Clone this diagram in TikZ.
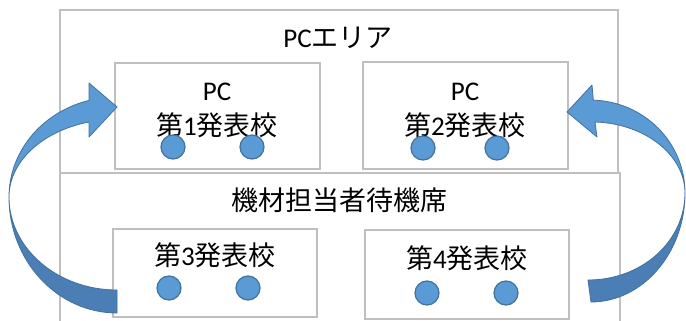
\documentclass[tikz,border=0pt]{standalone}
\usepackage{fontspec}
\setmainfont{Carlito}
\newfontfamily\jp{Noto Sans CJK JP}
\newcommand\jpt[1]{{\jp #1}}
\definecolor{linegray}{HTML}{BFBFBF}
\definecolor{dotfill}{HTML}{5B9BD5}
\definecolor{dotline}{HTML}{41719C}
\definecolor{arrowlight}{HTML}{5B9BD5}
\definecolor{arrowdark}{HTML}{4A7EB5}
\tikzset{
  region/.style={draw=linegray, line width=1.5pt, fill=white, inner sep=0pt},
  schoolbox/.style={draw=linegray, line width=1.5pt, fill=white, inner sep=0pt},
  label/.style={font=\fontsize{27}{32}\selectfont, inner sep=0pt, text=black},
  dot/.style={circle, fill=dotfill, draw=dotline, line width=1.2pt, minimum size=24pt, inner sep=0pt},
  arrowpart/.style={draw=dotline, line width=0.8pt, line join=round},
}
\begin{document}
\begin{tikzpicture}[x=1pt,y=-1pt]
\clip (0,0) rectangle (686,321);
\fill[white] (0,0) rectangle (686,321);
% regions
\node[region, minimum width=558pt, minimum height=163pt] (pcarea) at (339,91.5) {};
\node[region, minimum width=560pt, minimum height=164pt] (waitarea) at (340,255) {};
% school boxes
\node[schoolbox, minimum width=205pt, minimum height=106pt] (b1) at (217.5,116) {};
\node[schoolbox, minimum width=205pt, minimum height=107pt] (b2) at (465.5,115.5) {};
\node[schoolbox, minimum width=204pt, minimum height=88pt] (b3) at (215,273) {};
\node[schoolbox, minimum width=204pt, minimum height=89pt] (b4) at (467,274.5) {};
% texts
\node[label] (t0) at (338,38) {PC\jpt{エリア}};
\node[label] (p1) at (217,92) {PC};
\node[label] (s1) at (217,125) {\jpt{第}1\jpt{発表校}};
\node[label] (p2) at (465,92) {PC};
\node[label] (s2) at (465,125) {\jpt{第}2\jpt{発表校}};
\node[label] (tw) at (339,200) {\jpt{機材担当者待機席}};
\node[label] (s3) at (215,255) {\jpt{第}3\jpt{発表校}};
\node[label] (s4) at (467,258) {\jpt{第}4\jpt{発表校}};
% dots
\node[dot] (c1a) at (173,147) {};
\node[dot] (c1b) at (252,147) {};
\node[dot] (c2a) at (423,148) {};
\node[dot] (c2b) at (497,148) {};
\node[dot] (c3a) at (169,288) {};
\node[dot] (c3b) at (248,288) {};
\node[dot] (c4a) at (427,293) {};
\node[dot] (c4b) at (506,293) {};
% left curved arrow (upper light part)
\filldraw[arrowpart, fill=arrowlight]
  (9,197) .. controls (9,151.7) and (41.8,112.1) .. (89,100.4)
  -- (89,83) -- (117,107) -- (89,137) -- (89,122)
  .. controls (41.8,131.1) and (9,161.9) .. (9,197) -- cycle;
% left curved arrow (lower dark part)
\filldraw[arrowpart, fill=arrowdark]
  (9,197) .. controls (9,261) and (57.4,313) .. (117,313)
  -- (117,290)
  .. controls (57.4,290) and (9,248.3) .. (9,197) -- cycle;
% right curved arrow (upper light part)
\filldraw[arrowpart, fill=arrowlight]
  (685,193) .. controls (685,142.9) and (644.5,101.8) .. (593.3,100.1)
  -- (592,85) -- (567,112) -- (597,137) -- (595,122)
  .. controls (644.5,123.4) and (685,154.8) .. (685,193) -- cycle;
% right curved arrow (lower dark part)
\filldraw[arrowpart, fill=arrowdark]
  (685,193) .. controls (685,253.2) and (642.4,302) .. (591,302)
  -- (588,280)
  .. controls (642.4,280) and (685,241) .. (685,193) -- cycle;
\end{tikzpicture}
\end{document}
